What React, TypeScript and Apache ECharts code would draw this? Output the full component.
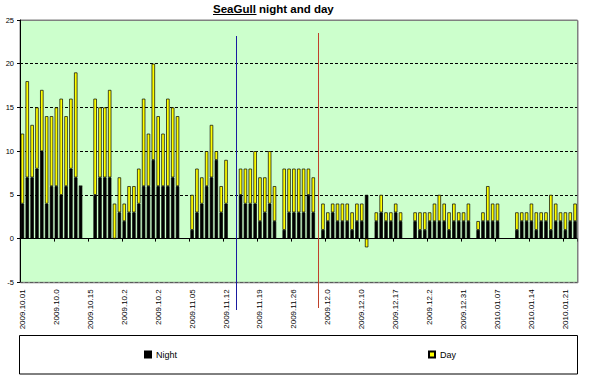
import React, { useEffect, useRef } from "react";
import * as echarts from "echarts";

const START_DATE = "2009-10-01";
const DAY_COUNT = 115;

const TICK_LABELS = [
  "2009.10.01", "2009.10.0", "2009.10.15", "2009.10.2", "2009.10.2", "2009.11.05",
  "2009.11.12", "2009.11.19", "2009.11.26", "2009.12.0", "2009.12.10", "2009.12.17",
  "2009.12.2", "2009.12.31", "2010.01.07", "2010.01.14", "2010.01.21",
];

const NIGHT = [
  4, 7, 7, 8, 10, 4, 6, 6, 5, 6, 8, 7, 6, null, null, 5, 7, 7, 7, 0,
  3, 2, 3, 3, 4, 6, 6, 9, 6, 6, 6, 7, 6, null, null, 1, 3, 4, 6, 7,
  9, 3, 4, null, null, 5, 4, 4, 4, 2, 3, 4, 2, null, 1, 3, 3, 3, 3, 5,
  3, null, 1, 2, 3, 2, 2, 2, 1, 2, 2, 5, null, 2, 3, 2, 2, 3, 2, null,
  null, 2, 1, 1, 2, 2, 2, 2, 1, 2, 2, 2, 2, null, 1, 2, 2, 2, 2, null,
  null, null, 1, 2, 2, 2, 1, 2, 2, 1, 2, 2, 1, 2, 2,
];

const DAY = [
  8, 11, 6, 7, 7, 10, 8, 9, 11, 8, 8, 12, 0, null, null, 11, 8, 8, 10, 4,
  4, 2, 3, 3, 4, 10, 6, 11, 8, 6, 10, 8, 8, null, null, 4, 5, 3, 4, 6,
  1, 3, 5, null, null, 3, 4, 4, 6, 5, 4, 6, 4, null, 7, 5, 5, 5, 5, 3,
  4, null, 3, 1, 1, 2, 2, 2, 2, 2, 2, -1, null, 1, 2, 1, 1, 1, 1, null,
  null, 1, 2, 2, 1, 2, 3, 2, 2, 2, 1, 1, 2, null, 1, 1, 4, 2, 2, null,
  null, null, 2, 1, 1, 2, 2, 1, 1, 4, 2, 1, 2, 1, 2,
];

const MARKER_BLUE_INDEX = 44;
const MARKER_RED_INDEX = 61;

function buildCategories(): string[] {
  const out: string[] = [];
  const d0 = new Date(START_DATE + "T00:00:00Z");
  for (let i = 0; i < DAY_COUNT; i++) {
    const d = new Date(d0.getTime() + i * 86400000);
    const y = d.getUTCFullYear();
    const m = String(d.getUTCMonth() + 1).padStart(2, "0");
    const dd = String(d.getUTCDate()).padStart(2, "0");
    out.push(`${y}.${m}.${dd}`);
  }
  return out;
}

const FONT = 'Arial, "Liberation Sans", sans-serif';

export default function App() {
  const ref = useRef<HTMLDivElement>(null);
  useEffect(() => {
    if (!ref.current) return;
    const chart = echarts.init(ref.current, null, { renderer: "svg" });
    const categories = buildCategories();
    const GL = 20, GT = 20, GR = 12.5, GB = 98.7;
    const option: any = {
      animation: false,
      backgroundColor: "#ffffff",
      textStyle: { fontFamily: FONT },
      grid: {
        left: GL, top: GT, right: GR, bottom: GB,
        show: true, backgroundColor: "#CCFFCC", borderColor: "#808080", borderWidth: 1,
        containLabel: false,
      },
      legend: [
        {
          data: ["Night"], left: 144, top: 350, itemWidth: 6, itemHeight: 6,
          icon: "rect", textStyle: { fontSize: 9, color: "#000", fontFamily: FONT },
          itemGap: 0, padding: 0,
        },
        {
          data: ["Day"], left: 428, top: 350, itemWidth: 6, itemHeight: 6,
          icon: "rect", textStyle: { fontSize: 9, color: "#000", fontFamily: FONT },
          itemGap: 0, padding: 0,
        },
      ],
      xAxis: [
        {
          type: "category", data: categories, position: "bottom",
          axisLine: { show: false, onZero: false },
          axisTick: { show: false },
          axisLabel: {
            interval: 6, rotate: 90, fontSize: 8, color: "#000", margin: 7, fontFamily: FONT,
            formatter: (_v: string, idx: number) => TICK_LABELS[Math.round(idx / 7)] ?? "",
          },
          splitLine: { show: false },
        },
        {
          type: "category", data: categories, position: "bottom",
          axisLine: { show: true, onZero: true, lineStyle: { color: "#000", width: 1 } },
          axisTick: { show: true, interval: 6, length: 3, lineStyle: { color: "#000" } },
          axisLabel: { show: false },
          splitLine: { show: false },
        },
      ],
      yAxis: {
        type: "value", min: -5, max: 25, interval: 5,
        axisLine: { show: true, lineStyle: { color: "#000", width: 1 } },
        axisTick: { show: true, length: 3, lineStyle: { color: "#000" } },
        axisLabel: { fontSize: 7.5, color: "#000", margin: 6, fontFamily: FONT },
        splitLine: { show: true, lineStyle: { color: "#000", type: [3, 2], width: 1 } },
      },
      series: [
        {
          name: "Night", type: "bar", stack: "total", data: NIGHT, barWidth: 3.4,
          itemStyle: { color: "#000000", borderColor: "#000000", borderWidth: 0.7 },
        },
        {
          name: "Day", type: "bar", stack: "total", data: DAY, barWidth: 3.4,
          itemStyle: { color: "#FFFF00", borderColor: "#000000", borderWidth: 0.7 },
        },
      ],
      graphic: [],
    };
    chart.setOption(option);

    const bx = Math.round(chart.convertToPixel({ xAxisIndex: 0 }, MARKER_BLUE_INDEX) as number) + 0.5;
    const rx = Math.round(chart.convertToPixel({ xAxisIndex: 0 }, MARKER_RED_INDEX) as number) + 0.5;
    const W = 590, H = 381;
    const plotR = W - GR, plotB = H - GB;

    chart.setOption({
      graphic: [
        {
          type: "rect", z: 50, silent: true,
          shape: { x: GL + 0.5, y: GT + 0.5, width: plotR - GL, height: plotB - GT },
          style: { fill: "none", stroke: "#808080", lineWidth: 1 },
        },
        {
          type: "line", z: 60, silent: true,
          shape: { x1: GL + 0.5, y1: GT, x2: GL + 0.5, y2: plotB },
          style: { stroke: "#000", lineWidth: 1 },
        },
        {
          type: "line", z: 100, silent: true,
          shape: { x1: bx, y1: 36, x2: bx, y2: 310 },
          style: { stroke: "#1a1aa0", lineWidth: 1 },
        },
        {
          type: "line", z: 100, silent: true,
          shape: { x1: rx, y1: 33, x2: rx, y2: 308 },
          style: { stroke: "#c0402a", lineWidth: 1 },
        },
        {
          type: "rect", z: -1, silent: true,
          shape: { x: 19.5, y: 335.5, width: 558, height: 38.5 },
          style: { fill: "#fff", stroke: "#000", lineWidth: 1 },
        },
        {
          type: "text", z: 100, silent: true, x: 213, y: 8.5,
          style: {
            text: "SeaGull night and day", fill: "#000", font: `bold 11.5px ${FONT}`,
            verticalAlign: "middle", align: "left",
          },
        },
        {
          type: "line", z: 100, silent: true,
          shape: { x1: 213, y1: 14.5, x2: 256.5, y2: 14.5 },
          style: { stroke: "#000", lineWidth: 1 },
        },
      ],
    });

    return () => chart.dispose();
  }, []);
  return (
    <div
      ref={ref}
      style={{ position: "fixed", left: 0, top: 0, width: 590, height: 381 }}
    />
  );
}
